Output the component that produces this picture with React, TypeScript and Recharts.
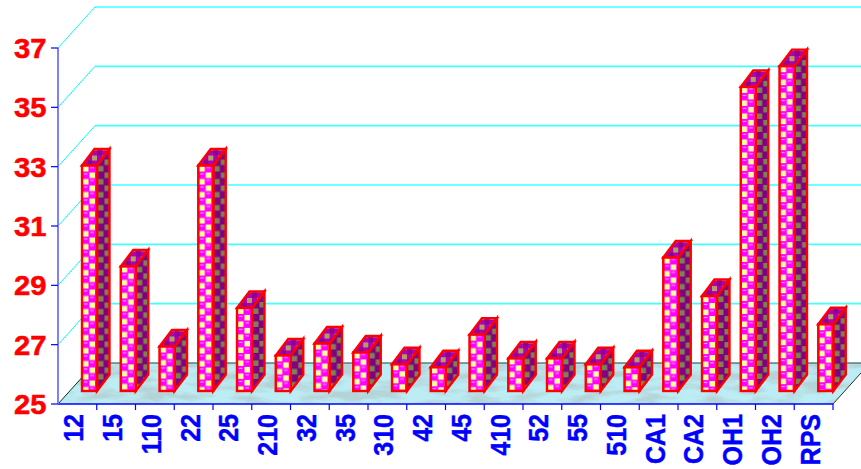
import React from "react";
import { BarChart, Bar, XAxis, YAxis, ReferenceLine } from "recharts";

const categories = ["12","15","110","22","25","210","32","35","310","42","45","410","52","55","510","CA1","CA2","OH1","OH2","RPS"];
const values = [32.6,29.2,26.5,32.6,27.8,26.2,26.6,26.3,25.9,25.8,26.9,26.1,26.1,25.9,25.8,29.5,28.2,35.25,35.95,27.25];
const yTicks = [25,27,29,31,33,35,37];
const rows = categories.map((name, i) => ({ name, value: values[i] }));

// Projection of the box: wall depth and the depth of each column.
const WALL_DX = 37;
const WALL_DY = -41;
const BAR_SHIFT_X = 12;
const BAR_SHIFT_Y = -13;
const BAR_DX = 12.5;
const BAR_DY = -16.5;
const BAND = 38.75;

const num = (v: any) => Number(v) || 0;

// Wall gridline: a diagonal on the left side, then a horizontal on the back wall.
const GridLine = (p: any) => {
  const x1 = num(p.x1), y = num(p.y1), x2 = num(p.x2);
  return (
    <g>
      <line x1={x1} y1={y} x2={x1 + WALL_DX} y2={y + WALL_DY} stroke="#00ffff" strokeWidth={1} />
      <line x1={x1 + WALL_DX} y1={y + WALL_DY} x2={x2 + WALL_DX} y2={y + WALL_DY} stroke="#40ffff" strokeWidth={1.6} />
    </g>
  );
};

// Floor of the box, drawn from the baseline of the value axis.
const Floor = (p: any) => {
  const x1 = num(p.x1), y = num(p.y1), x2 = num(p.x2);
  const pts = `${x1},${y} ${x1 + WALL_DX},${y + WALL_DY} ${x2 + WALL_DX},${y + WALL_DY} ${x2},${y}`;
  return (
    <g>
      <polygon points={pts} fill="#bcedf4" />
      <polygon points={pts} fill="#bcedf4" filter="url(#floorMottle)" />
      <line x1={x1} y1={y} x2={x1 + WALL_DX} y2={y + WALL_DY} stroke="#003030" strokeWidth={1} />
      <line x1={x1 + WALL_DX} y1={y + WALL_DY} x2={x2 + WALL_DX} y2={y + WALL_DY} stroke="#0b4a4a" strokeWidth={1.2} />
      <line x1={x2} y1={y} x2={x2 + WALL_DX} y2={y + WALL_DY} stroke="#303030" strokeWidth={1} />
    </g>
  );
};

// Each face sits in its own translated group so the texture starts at the column's corner.
const Column = (p: any) => {
  const w = num(p.width);
  const x = num(p.x) + BAR_SHIFT_X;
  const top = num(p.y) + BAR_SHIFT_Y;
  const h = num(p.height);
  const edge = { stroke: "#ff0000", strokeWidth: 2.4, strokeLinejoin: "miter" as const };
  return (
    <g>
      <g transform={`translate(${x + w},${top})`}>
        <polygon
          points={`0,0 ${BAR_DX},${BAR_DY} ${BAR_DX},${h + BAR_DY} 0,${h}`}
          fill="url(#sideTexture)"
          {...edge}
        />
      </g>
      <g transform={`translate(${x},${top})`}>
        <polygon
          points={`0,0 ${BAR_DX},${BAR_DY} ${w + BAR_DX},${BAR_DY} ${w},0`}
          fill="url(#topTexture)"
          {...edge}
        />
        <rect width={w} height={h} fill="url(#frontTexture)" {...edge} />
      </g>
    </g>
  );
};

const ValueTick = (p: any) => {
  const { x, y, payload } = p;
  return (
    <g>
      <line x1={x + 1} y1={y} x2={x + 8} y2={y} stroke="#0000ff" strokeWidth={1.2} />
      <text
        transform={`translate(${x - 3.5},${y + 10}) scale(1.08,1)`}
        textAnchor="end"
        fontFamily="Liberation Sans"
        fontWeight={700}
        fontSize={27}
        fill="#ff0000"
        stroke="#ff0000"
        strokeWidth={0.5}
      >
        {payload.value}
      </text>
    </g>
  );
};

const CategoryTick = (p: any) => {
  const { x, y, payload } = p;
  return (
    <g>
      <line x1={x + BAND / 2} y1={y - 8} x2={x + BAND / 2} y2={y - 2} stroke="#0000ff" strokeWidth={1.2} />
      <text
        transform={`translate(${x + 6},${y + 2}) scale(1.14,1) rotate(-90)`}
        textAnchor="end"
        fontFamily="Liberation Sans"
        fontWeight={700}
        fontSize={25}
        fill="#0000ff"
        stroke="#0000ff"
        strokeWidth={0.4}
      >
        {payload.value}
      </text>
    </g>
  );
};

export default function App() {
  return (
    <div style={{ position: "fixed", left: 0, top: 0, width: 861, height: 469, background: "#fff", overflow: "hidden" }}>
      <BarChart
        width={861}
        height={469}
        data={rows}
        margin={{ top: 48, right: 28, bottom: 0, left: 0 }}
        barSize={15}
      >
        <defs>
          <pattern id="frontTexture" width="13" height="13" patternUnits="userSpaceOnUse">
            <rect width="13" height="13" fill="#ff00ff" />
            <rect x="1" y="0.5" width="5.5" height="5.5" fill="#ffff99" />
            <rect x="7.5" y="7" width="5.5" height="5.5" fill="#ffff99" />
            <rect x="8.3" y="1.4" width="3.6" height="1" fill="#ffb0ff" />
            <rect x="1.8" y="7.9" width="3.6" height="1" fill="#ffb0ff" />
          </pattern>
          <pattern id="sideTexture" width="13" height="13" patternUnits="userSpaceOnUse">
            <rect width="13" height="13" fill="#800080" />
            <rect x="1" y="0.5" width="5.5" height="5.5" fill="#808050" />
            <rect x="7.5" y="7" width="5.5" height="5.5" fill="#808050" />
          </pattern>
          <pattern id="topTexture" width="10" height="10" patternUnits="userSpaceOnUse">
            <rect width="10" height="10" fill="#b000b0" />
            <rect x="0" y="0" width="5" height="5" fill="#b0a060" />
            <rect x="5" y="5" width="5" height="5" fill="#900090" />
          </pattern>
          <filter id="floorMottle" x="0" y="0" width="100%" height="100%">
            <feTurbulence type="fractalNoise" baseFrequency="0.03 0.11" numOctaves={3} seed={7} />
            <feColorMatrix
              type="matrix"
              values="0 0 0 0 0.45  0 0 0 0 0.65  0 0 0 0 0.68  3.2 0 0 0 -1.3"
            />
            <feComposite in2="SourceAlpha" operator="in" />
          </filter>
        </defs>
        <XAxis
          dataKey="name"
          interval={0}
          axisLine={{ stroke: "#0000ff", strokeWidth: 1.5 }}
          tickLine={false}
          tick={<CategoryTick />}
          height={65}
        />
        <YAxis
          type="number"
          domain={[25, 37]}
          ticks={yTicks}
          width={58}
          interval={0}
          axisLine={{ stroke: "#8080ff", strokeWidth: 2 }}
          tickLine={false}
          tick={<ValueTick />}
        />
        <ReferenceLine y={25} ifOverflow="visible" shape={<Floor />} zIndex={50} />
        {yTicks.slice(1).map((t) => (
          <ReferenceLine key={t} y={t} ifOverflow="visible" shape={<GridLine />} zIndex={50} />
        ))}
        <Bar dataKey="value" isAnimationActive={false} shape={<Column />} />
      </BarChart>
    </div>
  );
}
